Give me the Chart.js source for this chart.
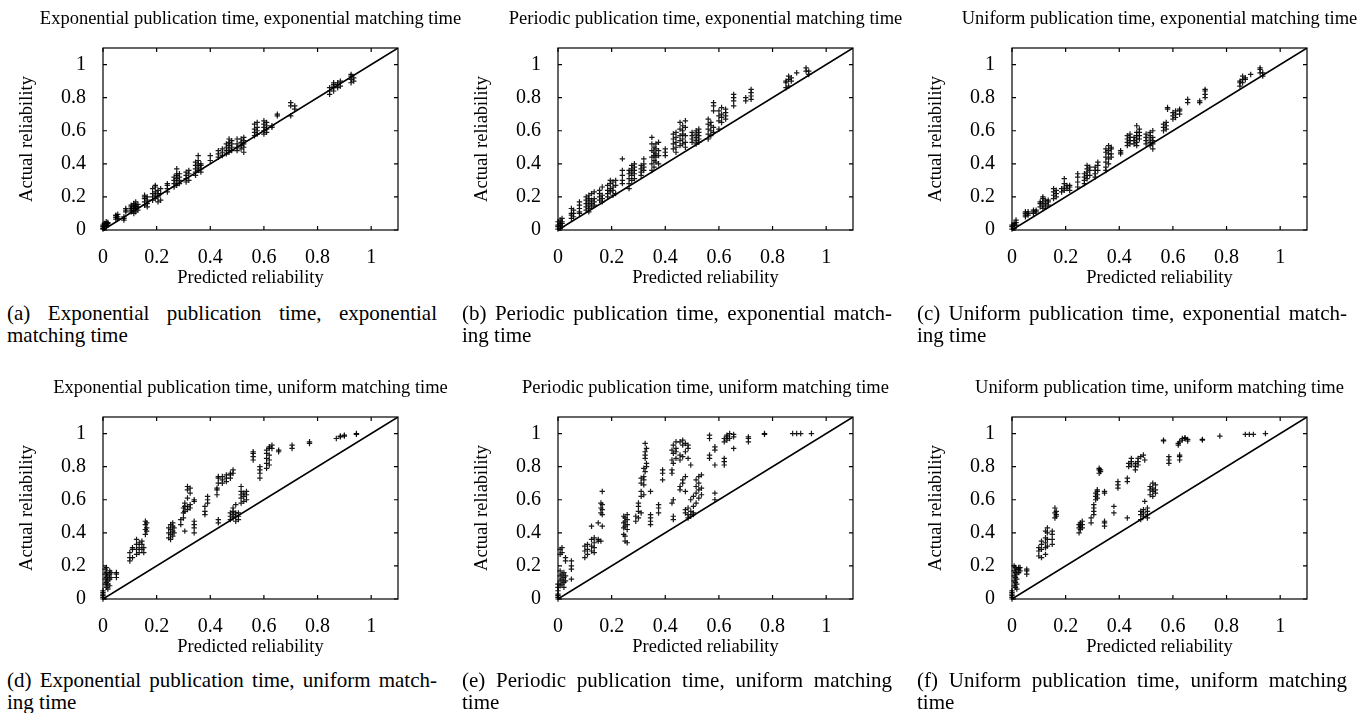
<!DOCTYPE html>
<html>
<head>
<meta charset="utf-8">
<script src="https://cdn.jsdelivr.net/npm/chart.js@4"></script>
<style>
  html, body { margin: 0; padding: 0; background: #fff; width: 1364px; height: 713px; overflow: hidden; position: relative; }
  canvas { position: absolute; }
  .cap { position: absolute; width: 430px; font-family: "Liberation Serif", "Times New Roman", serif; font-size: 21px; line-height: 22px; color: #000; }
  .cap .l1 { text-align: justify; text-align-last: justify; white-space: nowrap; }
  .cap .l2 { text-align: left; white-space: nowrap; }
</style>
</head>
<body>
<script>
// ---- Data: columns of [predicted reliability, [actual reliability values]] ----
const expExp = [
  [0.000,[0.005,0.01,0.02,0.03]],[0.005,[0.01,0.02,0.03,0.04]],[0.012,[0.02,0.03,0.04,0.05]],[0.018,[0.03,0.04,0.045]],
  [0.048,[0.065,0.075,0.085,0.09]],[0.055,[0.07,0.08,0.095]],[0.078,[0.06,0.07,0.08]],[0.085,[0.11,0.12,0.13]],
  [0.105,[0.11,0.12,0.13,0.14,0.15]],[0.115,[0.10,0.12,0.13,0.14,0.15,0.16]],[0.122,[0.11,0.13,0.14,0.15,0.17]],[0.13,[0.12,0.14,0.155]],
  [0.155,[0.15,0.17,0.19,0.20,0.21]],[0.165,[0.14,0.16,0.18,0.20]],[0.185,[0.18,0.20,0.22,0.25]],[0.195,[0.19,0.21,0.23,0.26,0.27]],
  [0.205,[0.17,0.20,0.22,0.24]],[0.215,[0.18,0.22,0.25]],[0.24,[0.23,0.25,0.27,0.28]],[0.265,[0.26,0.28,0.30,0.32]],
  [0.275,[0.27,0.29,0.31,0.33,0.34,0.37]],[0.285,[0.28,0.30,0.32,0.34]],[0.31,[0.29,0.31,0.33,0.35]],[0.32,[0.30,0.34,0.36]],
  [0.345,[0.33,0.35,0.37,0.39,0.41]],[0.355,[0.36,0.38,0.40,0.42,0.45]],[0.365,[0.35,0.37,0.39,0.40]],[0.40,[0.42,0.45]],
  [0.43,[0.44,0.46,0.48]],[0.445,[0.45,0.47,0.49]],[0.46,[0.46,0.48,0.50,0.52]],[0.47,[0.47,0.49,0.51,0.53,0.55]],
  [0.48,[0.48,0.50,0.52,0.54]],[0.50,[0.48,0.50,0.52,0.55]],[0.515,[0.49,0.51,0.53,0.55]],[0.525,[0.47,0.50,0.52,0.54,0.56]],
  [0.565,[0.57,0.59,0.61,0.64]],[0.575,[0.58,0.60,0.62,0.65]],[0.60,[0.58,0.60,0.62,0.64,0.66]],[0.61,[0.59,0.61,0.63,0.65]],
  [0.63,[0.62,0.63]],[0.65,[0.69,0.70]],[0.70,[0.69,0.75,0.77]],[0.715,[0.73,0.75]],
  [0.845,[0.82,0.84,0.86]],[0.86,[0.84,0.86,0.87,0.88,0.89]],[0.875,[0.86,0.88,0.89]],[0.885,[0.87,0.90]],
  [0.925,[0.89,0.91,0.93,0.94]],[0.935,[0.90,0.92]]
];
const perExp = [
  [0.0,[0.005,0.02,0.03,0.05]],[0.008,[0.01,0.03,0.04,0.06]],[0.015,[0.02,0.04,0.05,0.07]],
  [0.05,[0.07,0.09,0.10,0.13]],[0.058,[0.08,0.10,0.12]],[0.08,[0.10,0.11,0.13,0.15,0.17]],
  [0.105,[0.12,0.14,0.16,0.18,0.20]],[0.115,[0.11,0.13,0.15,0.17,0.19,0.21]],[0.125,[0.14,0.16,0.18,0.22]],[0.135,[0.15,0.17,0.19,0.23]],
  [0.155,[0.18,0.20,0.22,0.24]],[0.165,[0.17,0.19,0.21,0.26]],[0.185,[0.20,0.22,0.24,0.27]],[0.195,[0.23,0.25,0.28,0.30]],
  [0.205,[0.21,0.24,0.26,0.29]],[0.215,[0.22,0.27,0.30]],[0.24,[0.28,0.30,0.33,0.36,0.43]],[0.265,[0.25,0.28,0.31,0.34,0.36]],
  [0.275,[0.30,0.33,0.35,0.37,0.39]],[0.285,[0.31,0.34,0.36,0.38,0.40]],[0.31,[0.33,0.35,0.37,0.39]],[0.32,[0.36,0.38,0.40,0.43]],
  [0.35,[0.36,0.40,0.44,0.48,0.52,0.56]],[0.358,[0.38,0.42,0.45,0.47,0.50]],[0.365,[0.41,0.44,0.46,0.49,0.52]],[0.375,[0.40,0.45,0.48,0.53]],
  [0.40,[0.45,0.47,0.49]],[0.43,[0.49,0.52,0.55,0.58]],[0.44,[0.47,0.50,0.53,0.56,0.59]],[0.455,[0.51,0.54,0.57,0.61,0.65]],
  [0.465,[0.52,0.55,0.58,0.60,0.63]],[0.475,[0.50,0.53,0.57,0.62,0.66]],[0.50,[0.53,0.55,0.57,0.59]],[0.515,[0.52,0.54,0.56,0.58,0.60]],
  [0.525,[0.53,0.55,0.57,0.59,0.61]],[0.56,[0.55,0.58,0.61,0.64,0.67]],[0.57,[0.57,0.60,0.63,0.65]],[0.58,[0.59,0.62,0.72,0.75,0.77]],
  [0.60,[0.61,0.66,0.69,0.72]],[0.61,[0.65,0.68,0.70,0.74]],[0.625,[0.67,0.69,0.71,0.73]],[0.655,[0.75,0.78,0.80,0.82]],
  [0.70,[0.78,0.80]],[0.72,[0.79,0.81,0.83,0.85]],[0.85,[0.86,0.89,0.90]],[0.86,[0.87,0.91,0.93]],[0.87,[0.90,0.92]],
  [0.89,[0.95]],[0.925,[0.96,0.98]],[0.935,[0.94,0.96]]
];
const uniExp = [
  [0.0,[0.005,0.02,0.03]],[0.008,[0.01,0.03,0.04]],[0.015,[0.03,0.045,0.06]],
  [0.05,[0.08,0.09,0.10,0.11]],[0.06,[0.09,0.10,0.11]],[0.08,[0.10,0.11,0.12]],[0.09,[0.11,0.12]],
  [0.105,[0.14,0.16,0.17]],[0.115,[0.13,0.15,0.17,0.19,0.20]],[0.125,[0.14,0.16,0.18]],[0.135,[0.15,0.17,0.18]],
  [0.155,[0.19,0.21,0.23,0.25]],[0.165,[0.20,0.22,0.24]],[0.185,[0.23,0.25]],[0.195,[0.24,0.26,0.28,0.31]],
  [0.205,[0.25,0.27]],[0.215,[0.24,0.26,0.27]],[0.245,[0.26,0.29,0.32,0.34]],[0.27,[0.28,0.30,0.32,0.34]],
  [0.28,[0.31,0.33,0.35,0.37,0.39]],[0.29,[0.33,0.36,0.38]],[0.31,[0.32,0.34,0.36,0.38]],[0.32,[0.36,0.39,0.41]],
  [0.35,[0.36,0.38,0.41,0.44,0.47,0.49]],[0.36,[0.40,0.43,0.46,0.48,0.51]],[0.37,[0.44,0.46,0.49,0.50]],[0.405,[0.46,0.47,0.48]],
  [0.43,[0.51,0.53,0.55,0.57]],[0.44,[0.52,0.54,0.56,0.58]],[0.455,[0.52,0.54,0.56]],[0.465,[0.51,0.53,0.55,0.57,0.59,0.63]],
  [0.475,[0.55,0.57,0.59,0.61]],[0.50,[0.52,0.54,0.56,0.58]],[0.515,[0.51,0.53,0.55,0.57,0.59]],[0.525,[0.49,0.52,0.54,0.56,0.60]],
  [0.565,[0.60,0.62,0.64]],[0.575,[0.61,0.63,0.65]],[0.58,[0.73,0.74]],[0.60,[0.67,0.69,0.71]],[0.61,[0.68,0.70,0.72]],
  [0.625,[0.70,0.72,0.73]],[0.655,[0.77,0.79]],[0.70,[0.77,0.78]],[0.72,[0.80,0.82,0.84,0.85]],
  [0.85,[0.87,0.89,0.90]],[0.86,[0.89,0.91,0.93]],[0.87,[0.91,0.92]],[0.89,[0.94]],[0.925,[0.95,0.97,0.98]],[0.935,[0.93,0.95]]
];
const expUni = [
  [0.0,[0.0,0.01,0.02,0.03,0.04,0.05]],[0.008,[0.09,0.12,0.15,0.18]],[0.013,[0.07,0.10,0.13,0.16,0.19]],[0.018,[0.06,0.09,0.11,0.14]],
  [0.025,[0.08,0.12,0.15,0.17]],[0.03,[0.13,0.16]],[0.05,[0.13,0.15,0.16]],
  [0.10,[0.23,0.25,0.28]],[0.11,[0.25,0.30,0.31]],[0.125,[0.27,0.30,0.33,0.36]],[0.135,[0.28,0.31,0.34]],[0.145,[0.30,0.33,0.35]],
  [0.152,[0.28,0.31]],[0.158,[0.39,0.42,0.45,0.47]],[0.163,[0.41,0.43,0.46]],
  [0.245,[0.37,0.40,0.43]],[0.252,[0.36,0.39,0.42,0.45]],[0.26,[0.38,0.41,0.44,0.46]],[0.265,[0.40,0.43]],
  [0.29,[0.45,0.48]],[0.30,[0.49,0.52,0.55]],[0.305,[0.41,0.53,0.56,0.58]],[0.315,[0.54,0.56,0.61,0.66,0.68]],[0.325,[0.55,0.57,0.64,0.67]],
  [0.34,[0.40,0.43,0.45,0.47,0.59,0.60]],[0.38,[0.51,0.53,0.56]],[0.39,[0.58,0.60,0.62]],[0.425,[0.63,0.66,0.67]],
  [0.43,[0.46,0.48,0.70,0.73,0.74]],[0.445,[0.70,0.72,0.74]],[0.46,[0.71,0.73,0.75]],[0.475,[0.48,0.50,0.52,0.73,0.75,0.76]],
  [0.485,[0.49,0.51,0.53,0.55,0.76,0.78]],[0.495,[0.47,0.50,0.52,0.57]],[0.505,[0.48,0.50,0.52]],
  [0.515,[0.58,0.61,0.63,0.65,0.68]],[0.525,[0.59,0.62,0.64]],[0.535,[0.60,0.63,0.65]],
  [0.56,[0.84,0.86,0.88,0.89]],[0.585,[0.73,0.76,0.78,0.80]],[0.61,[0.79,0.82,0.85,0.88,0.90]],[0.62,[0.81,0.84,0.87,0.91,0.92]],
  [0.63,[0.91,0.93]],[0.655,[0.89,0.90]],[0.705,[0.91,0.93]],[0.77,[0.94,0.95]],
  [0.87,[0.97]],[0.885,[0.98,0.985]],[0.90,[0.985,0.99]],[0.945,[0.995,1.0]]
];
const perUni = [
  [0.0,[0.0,0.01,0.02,0.03,0.05,0.07,0.09]],[0.008,[0.08,0.11,0.14,0.17,0.27,0.30]],[0.015,[0.09,0.12,0.15,0.28,0.31]],
  [0.022,[0.07,0.10,0.13,0.16]],[0.028,[0.11,0.14,0.23,0.25]],[0.05,[0.12,0.18,0.20,0.23]],
  [0.10,[0.25,0.29,0.32]],[0.11,[0.27,0.30,0.33]],[0.125,[0.29,0.32,0.36,0.44]],[0.135,[0.28,0.31,0.34,0.37]],
  [0.15,[0.35,0.36,0.46]],[0.16,[0.35,0.52,0.55,0.58]],[0.165,[0.44,0.51,0.54,0.57,0.65]],
  [0.245,[0.39,0.43,0.46,0.50]],[0.25,[0.35,0.38,0.44,0.47,0.49]],[0.258,[0.34,0.42,0.45,0.48,0.51]],
  [0.29,[0.47,0.50]],[0.30,[0.49,0.53,0.56,0.58]],[0.31,[0.52,0.62,0.65,0.70,0.73]],[0.32,[0.63,0.69,0.72,0.74,0.79]],
  [0.325,[0.77,0.85,0.87,0.89,0.94]],[0.33,[0.80,0.82,0.91]],[0.345,[0.45,0.47,0.49,0.51,0.65]],[0.375,[0.52,0.55,0.57]],
  [0.39,[0.72,0.76,0.78]],[0.425,[0.58,0.76,0.78,0.84,0.90]],[0.43,[0.48,0.50,0.60,0.82,0.88,0.93]],[0.44,[0.85,0.89,0.91,0.95]],
  [0.455,[0.66,0.68,0.84,0.87,0.95]],[0.465,[0.70,0.72,0.86,0.93,0.96]],[0.475,[0.52,0.54,0.65,0.74,0.89,0.94]],
  [0.485,[0.49,0.51,0.55,0.85,0.91,0.93]],[0.495,[0.50,0.53,0.60,0.81]],[0.505,[0.51,0.52,0.56,0.62]],
  [0.515,[0.58,0.64,0.68,0.72]],[0.525,[0.61,0.66,0.70,0.74]],[0.535,[0.63,0.67,0.75]],
  [0.565,[0.85,0.87,0.97,0.99]],[0.585,[0.60,0.64,0.81,0.90,0.92]],[0.62,[0.81,0.83,0.85,0.95,0.97]],[0.63,[0.96,0.98,0.99]],
  [0.64,[0.97,1.0]],[0.655,[0.91,0.98,0.995]],[0.71,[0.95,0.97,0.98]],[0.77,[0.995,1.0]],
  [0.875,[1.0]],[0.89,[1.0]],[0.905,[1.0]],[0.945,[1.0]]
];
const uniUni = [
  [0.0,[0.0,0.01,0.02,0.03,0.04,0.05]],[0.008,[0.08,0.11,0.14,0.17,0.20]],[0.013,[0.07,0.10,0.13,0.16,0.19]],
  [0.018,[0.06,0.09,0.12,0.15,0.18]],[0.025,[0.16,0.18,0.19]],[0.03,[0.17,0.19]],[0.055,[0.15,0.17,0.18]],
  [0.10,[0.26,0.29,0.31]],[0.11,[0.25,0.30,0.33,0.35]],[0.125,[0.27,0.31,0.34,0.37,0.41]],[0.132,[0.32,0.36,0.40,0.43]],
  [0.15,[0.33,0.36,0.39,0.41]],[0.16,[0.49,0.52,0.55]],[0.165,[0.50,0.51,0.53]],
  [0.25,[0.40,0.43,0.45]],[0.255,[0.42,0.44,0.46]],[0.262,[0.43,0.45,0.47]],[0.295,[0.46,0.49]],
  [0.305,[0.51,0.53,0.55,0.57]],[0.312,[0.60,0.62,0.64]],[0.318,[0.61,0.63,0.65,0.66]],[0.325,[0.76,0.78,0.79]],[0.33,[0.77,0.78]],
  [0.345,[0.44,0.46,0.47,0.64,0.65]],[0.38,[0.52,0.56]],[0.395,[0.67,0.69,0.71]],[0.43,[0.49,0.71,0.73]],
  [0.435,[0.80,0.82]],[0.445,[0.81,0.83,0.85]],[0.46,[0.78,0.80,0.82]],[0.47,[0.81,0.83,0.85]],
  [0.48,[0.48,0.51,0.53,0.86]],[0.49,[0.50,0.52,0.54,0.87]],[0.495,[0.59,0.84]],[0.505,[0.49,0.51,0.53,0.55]],
  [0.515,[0.63,0.66,0.68]],[0.525,[0.62,0.65,0.67,0.70]],[0.535,[0.64,0.66,0.69]],
  [0.565,[0.955,0.96]],[0.585,[0.82,0.84,0.86]],[0.62,[0.93,0.94]],[0.625,[0.84,0.86,0.87,0.95]],[0.635,[0.96,0.97]],
  [0.645,[0.97,0.975]],[0.655,[0.955,0.965]],[0.71,[0.96,0.965]],[0.775,[0.985]],
  [0.87,[0.995]],[0.885,[0.995]],[0.90,[0.995]],[0.945,[1.0]]
];
const diagonal = [0, 1.1];
const axisMin = 0, axisMax = 1.1, tickStep = 0.2;

const titles = [
  'Exponential publication time, exponential matching time',
  'Periodic publication time, exponential matching time',
  'Uniform publication time, exponential matching time',
  'Exponential publication time, uniform matching time',
  'Periodic publication time, uniform matching time',
  'Uniform publication time, uniform matching time'
];
const captions = [
  ['(a) Exponential publication time, exponential', 'matching time'],
  ['(b) Periodic publication time, exponential match-', 'ing time'],
  ['(c) Uniform publication time, exponential match-', 'ing time'],
  ['(d) Exponential publication time, uniform match-', 'ing time'],
  ['(e) Periodic publication time, uniform matching', 'time'],
  ['(f) Uniform publication time, uniform matching', 'time']
];
const xLabel = 'Predicted reliability';
const yLabel = 'Actual reliability';
const panelData = [expExp, perExp, uniExp, expUni, perUni, uniUni];

// ---- Layout ----
const FONT = '"Liberation Serif", "Times New Roman", serif';
const canvasLeft = [0, 455, 909];
const canvasTop = [0, 369];
const capLeft = [7, 462, 917];
const capTop = [302, 669];
const CW = 501, CH = 290;

Chart.defaults.font.family = FONT;
Chart.defaults.color = '#000';

const frameTicks = {
  id: 'frameTicks',
  afterDraw(chart) {
    const {ctx, chartArea: {left, right, top, bottom}, scales: {x, y}} = chart;
    ctx.save();
    ctx.strokeStyle = '#000';
    ctx.lineWidth = 1.2;
    ctx.beginPath();
    x.ticks.forEach(t => {
      const px = x.getPixelForValue(t.value);
      ctx.moveTo(px, bottom); ctx.lineTo(px, bottom - 4);
      ctx.moveTo(px, top); ctx.lineTo(px, top + 4);
    });
    y.ticks.forEach(t => {
      const py = y.getPixelForValue(t.value);
      ctx.moveTo(left, py); ctx.lineTo(left + 4, py);
      ctx.moveTo(right, py); ctx.lineTo(right - 4, py);
    });
    ctx.stroke();
    ctx.strokeRect(left, top, right - left, bottom - top);
    ctx.restore();
  }
};

const fmt = v => String(Math.round(v * 10) / 10);

panelData.forEach((cols, i) => {
  const col = i % 3, row = Math.floor(i / 3);
  const cv = document.createElement('canvas');
  cv.width = CW; cv.height = CH;
  cv.style.left = canvasLeft[col] + 'px';
  cv.style.top = canvasTop[row] + 'px';
  document.body.appendChild(cv);

  const pts = cols.flatMap(([px, ys]) => ys.map(v => ({x: px, y: v})));

  new Chart(cv, {
    data: {
      datasets: [
        {
          type: 'line',
          data: diagonal.map(v => ({x: v, y: v})),
          borderColor: '#000', borderWidth: 1.6, pointRadius: 0, fill: false, order: 2
        },
        {
          type: 'scatter',
          data: pts,
          pointStyle: 'cross', pointRadius: 2.7, pointBorderWidth: 1.2,
          borderColor: 'rgba(0,0,0,0.9)', backgroundColor: 'rgba(0,0,0,0.9)', clip: false, order: 1
        }
      ]
    },
    options: {
      responsive: false, animation: false,
      layout: { padding: 0 },
      plugins: {
        legend: { display: false }, tooltip: { enabled: false },
        title: {
          display: true, text: titles[i], fullSize: true,
          font: { size: 18.5, weight: 'normal', lineHeight: '20px' },
          padding: { top: 9, bottom: 19 }
        }
      },
      scales: {
        x: {
          type: 'linear', min: axisMin, max: axisMax,
          grid: { display: false }, border: { display: false },
          ticks: { stepSize: tickStep, includeBounds: false, padding: 8, font: { size: 20 }, callback: fmt, maxRotation: 0 },
          title: { display: true, text: xLabel, font: { size: 18.5 }, padding: { top: 0, bottom: 1 } },
          afterFit(s) { s.height = 60; }
        },
        y: {
          type: 'linear', position: 'left', min: axisMin, max: axisMax,
          grid: { display: false }, border: { display: false },
          ticks: { stepSize: tickStep, includeBounds: false, padding: 9, font: { size: 20 }, callback: fmt },
          title: { display: true, text: yLabel, font: { size: 18.5 }, padding: { top: 16, bottom: 0 } },
          afterFit(s) { s.width = 103; }
        },
        yR: {
          type: 'linear', position: 'right', display: true,
          grid: { display: false }, border: { display: false },
          ticks: { display: false },
          afterFit(s) { s.width = 103; }
        }
      }
    },
    plugins: [frameTicks]
  });

  const cap = document.createElement('div');
  cap.className = 'cap';
  cap.style.left = capLeft[col] + 'px';
  cap.style.top = capTop[row] + 'px';
  const l1 = document.createElement('div'); l1.className = 'l1'; l1.textContent = captions[i][0];
  const l2 = document.createElement('div'); l2.className = 'l2'; l2.textContent = captions[i][1];
  cap.appendChild(l1); cap.appendChild(l2);
  document.body.appendChild(cap);
});
</script>
</body>
</html>
